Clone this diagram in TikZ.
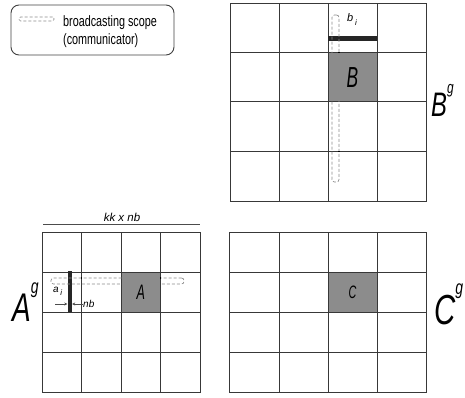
\documentclass[tikz,border=0pt]{standalone}
\usepackage{fontspec}
\setmainfont{Liberation Sans}
\newfontfamily\narleg[FakeStretch=0.72]{Liberation Sans}
\newfontfamily\narbig[FakeStretch=0.6]{Liberation Sans}
\newfontfamily\narhuge[FakeStretch=0.7]{Liberation Sans}
\usetikzlibrary{arrows.meta}
\begin{document}
\begin{tikzpicture}[x=1pt,y=-1pt,
  gridln/.style={draw=black!78, line width=1pt},
  cellbox/.style={fill=black!45, inner sep=0pt, minimum width=#1},
  scopebox/.style={draw=black!45, densely dashed, line width=0.7pt, rounded corners=2.5pt},
  barbox/.style={fill=black!85, inner sep=0pt},
  lbl/.style={inner sep=0pt, anchor=base west},
  dimarrow/.style={draw=black!70, line width=0.6pt, -{Stealth[length=3pt,width=3pt]}},
  dot/.style={fill=black, inner sep=0pt, minimum size=1.8pt},
  biglbl/.style={inner sep=0pt, anchor=base west, font=\narhuge\itshape}
]
\useasboundingbox (0,0) rectangle (465,398);

% legend
\node[draw=black!75, rounded corners=8pt, line width=0.9pt, minimum width=163pt, minimum height=50pt, inner sep=0pt] (legend) at (92.5,30) {};
\node[scopebox, minimum width=35pt, minimum height=4pt, inner sep=0pt, rounded corners=1.5pt] (legscope) at (36.5,19) {};
\node[inner sep=0pt, anchor=north west, align=left, font=\narleg\fontsize{15}{18.5}\selectfont] (legtext) at (63,15) {broadcasting scope\\(communicator)};

% gray cells with labels
\node[cellbox=39.5pt, minimum height=40pt, font=\narbig\itshape\fontsize{21}{21}\selectfont] (cellA) at (140.75,292) {A};
\node[cellbox=49pt, minimum height=49.5pt, font=\narbig\itshape\fontsize{29}{29}\selectfont] (cellB) at (352.5,77.25) {B};
\node[cellbox=49pt, minimum height=40pt, font=\narbig\itshape\fontsize{18}{18}\selectfont] (cellC) at (352.5,292) {C};

% grid A
\draw[gridln] (42,232) rectangle (200,392);
\foreach \x in {81.5,121,160.5} \draw[gridln] (\x,232) -- (\x,392);
\foreach \y in {272,312,352} \draw[gridln] (42,\y) -- (200,\y);
% grid B
\draw[gridln] (230,3.5) rectangle (426,201);
\foreach \x in {279,328,377} \draw[gridln] (\x,3.5) -- (\x,201);
\foreach \y in {52.5,102,151.5} \draw[gridln] (230,\y) -- (426,\y);
% grid C
\draw[gridln] (229,232) rectangle (426,392);
\foreach \x in {279,328,377} \draw[gridln] (\x,232) -- (\x,392);
\foreach \y in {272,312,352} \draw[gridln] (229,\y) -- (426,\y);

% bars
\node[barbox, minimum width=49pt, minimum height=5.5pt] (bbar) at (352.5,38.75) {};
\node[barbox, minimum width=4.5pt, minimum height=41pt] (abar) at (69.75,291.5) {};

% broadcasting scopes
\node[scopebox, minimum width=7pt, minimum height=167pt, inner sep=0pt] (bscope) at (335.5,98.5) {};
\node[scopebox, minimum width=133pt, minimum height=6pt, inner sep=0pt] (ascope) at (117.5,281) {};
\node[dot] (d1) at (339,52.5) {};
\node[dot] (d2) at (339,151.5) {};
\node[dot] (d3) at (81.5,278) {};
\node[dot] (d4) at (160.5,278) {};

% small labels
\node[lbl, font=\itshape\fontsize{11}{11}\selectfont] (bi) at (347,22) {b\,\raisebox{-0.3em}{\fontsize{8}{8}\selectfont i}};
\node[lbl, font=\itshape\fontsize{10}{10}\selectfont] (ai) at (53,292) {a\,\raisebox{-0.35em}{\fontsize{8}{8}\selectfont i}};
\node[lbl, font=\itshape\fontsize{10}{10}\selectfont] (nb) at (83,307) {nb};
\coordinate (nbL) at (55,304);
\draw[dimarrow] (nbL) -- (abar.west |- nbL);
\draw[dimarrow] (nb.west |- nbL) -- (abar.east |- nbL);

% kk x nb
\node[inner sep=0pt, anchor=base, font=\itshape\fontsize{11.5}{11.5}\selectfont] (kk) at (122,221) {kk x nb};
\coordinate (kkL) at (43,224);
\coordinate (kkR) at (200,224);
\draw[draw=black!70, line width=1pt] (kkL) -- (kkR);

% big matrix labels
\node[biglbl, font=\narhuge\itshape\fontsize{40}{40}\selectfont] (Ag) at (12,321) {A\raisebox{0.7em}{\fontsize{20}{20}\selectfont g}};
\node[biglbl, font=\narhuge\itshape\fontsize{34}{34}\selectfont] (Bg) at (431,117) {B\raisebox{0.7em}{\fontsize{17}{17}\selectfont g}};
\node[biglbl, font=\narhuge\itshape\fontsize{42}{42}\selectfont] (Cg) at (434,324) {C\raisebox{0.7em}{\fontsize{20}{20}\selectfont g}};
\end{tikzpicture}
\end{document}
